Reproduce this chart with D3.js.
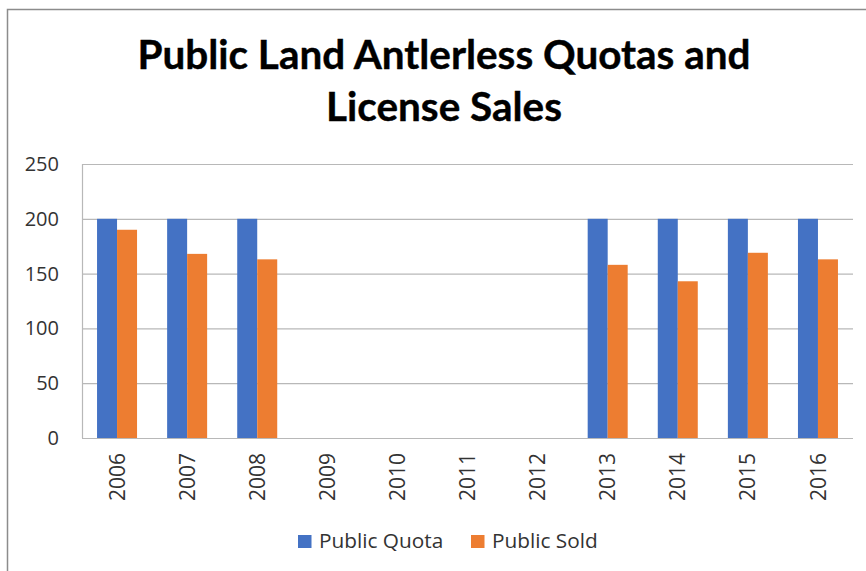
<!DOCTYPE html>
<html><head><meta charset="utf-8">
<script src="https://cdn.jsdelivr.net/npm/d3@7"></script>
<style>body{margin:0;background:#fff;overflow:hidden}svg{display:block}</style>
</head><body>
<svg id="c" width="866" height="571"></svg>
<script>
const years = ["2006","2007","2008","2009","2010","2011","2012","2013","2014","2015","2016"];
const publicQuota = [200,200,200,0,0,0,0,200,200,200,200];
const publicSold  = [190,168,163,0,0,0,0,158,143,169,163];
const seriesNames = ["Public Quota","Public Sold"];
const colors = ["#4472C4","#ED7D31"];
const yTicks = [0,50,100,150,200,250];
const titleLines = ["Public Land Antlerless Quotas and","License Sales"];

const svg = d3.select("#c");
const W = 866, H = 571;
const plot = {l:82, r:853, t:164, b:438};

// chart border
svg.append("path").attr("d", `M7.5,${H} V9.5 H${W}`).attr("fill","none")
  .attr("stroke","#8c8c8c").attr("stroke-width",1.5);

// title
const tf = "Lato, 'Open Sans', sans-serif";
const tg = svg.append("g");
titleLines.forEach((t,i)=>{
  tg.append("text").attr("x",(137+750)/2 + 0.5).attr("y", 69 + i*52)
    .attr("text-anchor","middle").attr("font-family",tf).attr("font-weight","bold")
    .attr("font-size",36).attr("fill","#000").attr("stroke","#000").attr("stroke-width",0.4).text(t);
});
const t0 = tg.select("text").node();
const w0 = t0.getComputedTextLength();
const fs = 36 * 613 / w0;
tg.selectAll("text").attr("font-size", fs);

const x0 = d3.scaleBand().domain(years).range([plot.l, plot.r]).paddingInner(0.4293).paddingOuter(0.2146);
const x1 = d3.scaleBand().domain(seriesNames).range([0, x0.bandwidth()]);
const y = d3.scaleLinear().domain([0,250]).range([plot.b, plot.t]);

const gridC = "#b8b8b8";
svg.append("g").selectAll("line").data(yTicks.filter(d=>d>0)).join("line")
  .attr("x1",plot.l).attr("x2",plot.r).attr("y1",d=>y(d)+0.5).attr("y2",d=>y(d)+0.5)
  .attr("stroke",gridC).attr("stroke-width",1.2);
svg.append("line").attr("x1",plot.l+0.5).attr("x2",plot.l+0.5).attr("y1",plot.t).attr("y2",plot.b)
  .attr("stroke",gridC).attr("stroke-width",1.2);

const data = years.map((yr,i)=>({yr, vals:[publicQuota[i], publicSold[i]]}));
const g = svg.append("g");
g.selectAll("g").data(data).join("g")
  .attr("transform", d=>`translate(${x0(d.yr)},0)`)
  .selectAll("rect").data(d=>d.vals.map((v,j)=>({v, s:seriesNames[j], c:colors[j]}))).join("rect")
  .attr("x", d=>x1(d.s)).attr("width", x1.bandwidth())
  .attr("y", d=>y(d.v)).attr("height", d=>y(0)-y(d.v)).attr("fill", d=>d.c);

svg.append("line").attr("x1",plot.l).attr("x2",plot.r).attr("y1",plot.b+0.5).attr("y2",plot.b+0.5)
  .attr("stroke",gridC).attr("stroke-width",1.2);

const lf = "'Open Sans', sans-serif";
const txtC = "#333333";
svg.append("g").selectAll("text").data(yTicks).join("text")
  .attr("x", 59).attr("y", d=>y(d)).attr("dy","0.35em").attr("text-anchor","end")
  .attr("font-family",lf).attr("font-size",20).attr("fill",txtC).text(d=>d);

svg.append("g").selectAll("text").data(years).join("text")
  .attr("transform", d=>`translate(${x0(d)+x0.bandwidth()/2},453) rotate(-90)`)
  .attr("text-anchor","end").attr("dy","0.36em")
  .attr("font-family",lf).attr("font-size",21).attr("fill",txtC).text(d=>d);

const legX = [298, 471];
const lg = svg.append("g");
seriesNames.forEach((s,i)=>{
  lg.append("rect").attr("x",legX[i]).attr("y",535).attr("width",13.5).attr("height",13).attr("fill",colors[i]);
  lg.append("text").attr("x",legX[i]+21).attr("y",548).attr("font-family",lf)
    .attr("font-size",20.8).attr("fill",txtC).text(s);
});
</script>
</body></html>
